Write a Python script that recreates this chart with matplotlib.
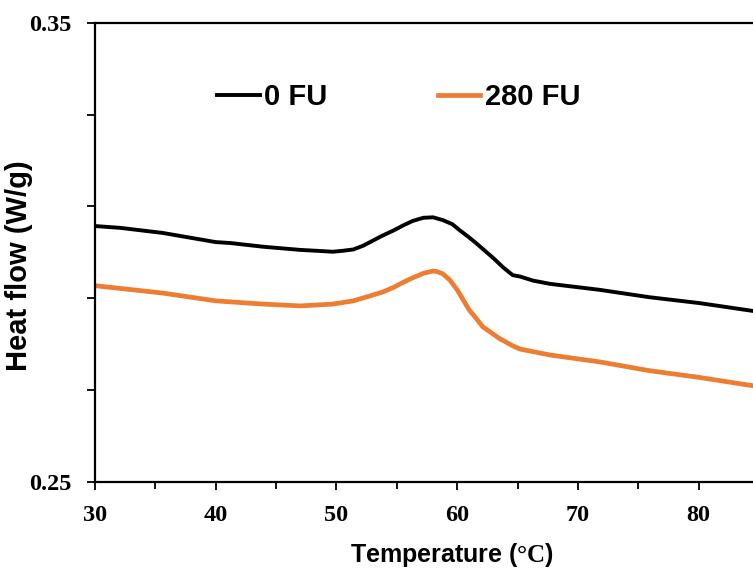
import matplotlib
matplotlib.use('Agg')
import matplotlib.pyplot as plt
from matplotlib.ticker import FixedLocator, MultipleLocator, FuncFormatter

# Temperature (°C) and heat flow (W/g)
temp_0 = [30.0, 32.1, 35.6, 40.0, 41.2, 43.9, 47.0, 48.4, 49.7, 50.5, 51.4,
          52.2, 53.0, 53.8, 54.7, 55.5, 56.3, 57.2, 58.0, 58.8, 59.6, 60.2,
          60.9, 61.6, 62.3, 63.0, 63.8, 64.6, 65.2, 66.3, 67.7, 71.8, 75.9,
          80.1, 84.5]
flow_0 = [0.3057, 0.3053, 0.3042, 0.3022, 0.3020, 0.3012, 0.3005, 0.3003,
          0.3001, 0.3003, 0.3006, 0.3014, 0.3025, 0.3036, 0.3047, 0.3058,
          0.3068, 0.3075, 0.3076, 0.3070, 0.3061, 0.3048, 0.3034, 0.3019,
          0.3003, 0.2987, 0.2967, 0.2950, 0.2947, 0.2938, 0.2931, 0.2918,
          0.2902, 0.2889, 0.2872]

temp_280 = [30.0, 35.6, 40.0, 43.9, 47.0, 49.7, 51.4, 52.8, 53.8, 54.7,
            55.5, 56.3, 57.2, 58.0, 58.3, 58.8, 59.4, 60.0, 60.5, 61.0,
            61.6, 62.1, 62.9, 63.5, 64.6, 65.2, 67.7, 71.8, 75.9, 80.1, 84.5]
flow_280 = [0.2927, 0.2911, 0.2894, 0.2887, 0.2883, 0.2887, 0.2894, 0.2905,
            0.2913, 0.2923, 0.2934, 0.2944, 0.2954, 0.2959, 0.2958, 0.2953,
            0.2939, 0.2918, 0.2896, 0.2874, 0.2855, 0.2838, 0.2823, 0.2812,
            0.2796, 0.2789, 0.2776, 0.2761, 0.2742, 0.2727, 0.2709]

series_labels = ['0 FU', '280 FU']

plt.rcParams['font.family'] = 'Liberation Serif'
plt.rcParams['font.weight'] = 'bold'
plt.rcParams['mathtext.fontset'] = 'custom'
plt.rcParams['mathtext.rm'] = 'Liberation Serif'

fig = plt.figure(figsize=(7.53, 5.71), dpi=100)
ax = fig.add_axes([95 / 753, 1 - 481.7 / 571, 658 / 753, 459 / 571])

ax.plot(temp_0, flow_0, color='black', lw=2.8, label=series_labels[0])
ax.plot(temp_280, flow_280, color='#ED7D31', lw=3.4, label=series_labels[1])

ax.set_xlim(30, 84.5)
ax.set_ylim(0.25, 0.35)

ax.xaxis.set_major_locator(MultipleLocator(10))
ax.xaxis.set_minor_locator(MultipleLocator(5))
ax.yaxis.set_major_locator(FixedLocator([0.25, 0.27, 0.29, 0.31, 0.33, 0.35]))
ax.yaxis.set_major_formatter(FuncFormatter(
    lambda v, p: f'{v:.2f}' if abs(v - 0.25) < 1e-6 or abs(v - 0.35) < 1e-6 else ''))

ax.tick_params(axis='both', which='major', direction='out', length=6, width=1.3,
               pad=11, labelsize=17.5)
ax.tick_params(axis='x', which='minor', direction='out', length=5, width=1.3)

for s in ['left', 'bottom', 'top']:
    ax.spines[s].set_linewidth(1.6)
ax.spines['right'].set_visible(False)

ax.set_xlabel('Temperature (' + r'$\mathrm{°C}$' + ')', fontfamily='Liberation Sans',
              fontweight='bold', fontsize=18)
ax.set_ylabel('Heat flow (W/g)', fontfamily='Liberation Sans', fontweight='bold', fontsize=21)
ax.xaxis.set_label_coords(0.5426, -0.130)
ax.yaxis.set_label_coords(-0.094, 0.47)

ax.legend(loc='center left', bbox_to_anchor=(0.146, 0.838), ncol=2, frameon=False,
          prop={'family': 'Liberation Sans', 'weight': 'bold', 'size': 21},
          handlelength=1.45, handletextpad=0.15, columnspacing=3.8)

fig.savefig('out.png', dpi=100)
